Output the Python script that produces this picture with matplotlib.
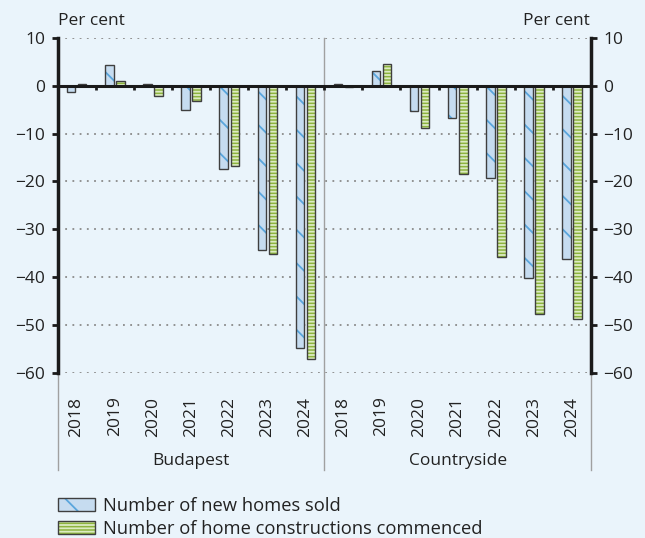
import matplotlib
matplotlib.use("Agg")
import matplotlib.pyplot as plt
from matplotlib.patches import Patch
from matplotlib.legend_handler import HandlerTuple
from matplotlib.transforms import blended_transform_factory
import matplotlib.lines as mlines

plt.rcParams['font.family'] = ['Open Sans', 'DejaVu Sans']
plt.rcParams['hatch.linewidth'] = 1.3

years = ['2018', '2019', '2020', '2021', '2022', '2023', '2024']
regions = ['Budapest', 'Countryside']
sold = [-1.4, 4.2, 0.3, -5.0, -17.5, -34.3, -54.7,
        0.4, 3.0, -5.3, -6.8, -19.2, -40.2, -36.1]
commenced = [0.4, 1.0, -2.1, -3.2, -16.8, -35.2, -57.1,
             -0.3, 4.6, -8.9, -18.4, -35.8, -47.6, -48.8]
series_labels = ['Number of new homes sold', 'Number of home constructions commenced']
yticks = [10, 0, -10, -20, -30, -40, -50, -60]

BG = '#EAF4FB'
BLUE_FILL = '#C6DCF0'
BLUE_HATCH = '#5AA6DC'
GREEN_FILL = '#8DB43E'
GREEN_HATCH = '#DCEBC2'
EDGE = '#3f3f3f'
FS = 12.5

W, H = 645, 538
fig = plt.figure(figsize=(W / 100, H / 100), dpi=100, facecolor=BG)
ax = fig.add_axes([57.5 / W, 1 - 373 / H, (591 - 57.5) / W, (373 - 37.7) / H])
ax.set_facecolor(BG)

n = len(sold)
x = list(range(n))
bw = 0.22
xs = [v - 0.14 for v in x]
xc = [v + 0.15 for v in x]

ax.bar(xs, sold, width=bw, color=BLUE_FILL, hatch='\\', edgecolor=BLUE_HATCH, linewidth=0, zorder=3)
ax.bar(xs, sold, width=bw, color='none', edgecolor=EDGE, linewidth=1.0, zorder=4)
ax.bar(xc, commenced, width=bw, color=GREEN_FILL, hatch='-----', edgecolor=GREEN_HATCH, linewidth=0, zorder=3)
ax.bar(xc, commenced, width=bw, color='none', edgecolor=EDGE, linewidth=1.0, zorder=4)

ax.set_xlim(-0.5, n - 0.5)
ax.set_ylim(-60, 10)

# grid
for yv in yticks:
    if yv != 0:
        ax.axhline(yv, color='#8a8a8a', lw=1.3, linestyle=(0, (1, 3)), zorder=1)
ax.axhline(0, color='#1a1a1a', lw=2.2, zorder=5)

# boundary ticks on zero line
for b in range(n - 1):
    ax.plot([b + 0.5, b + 0.5], [0, -0.9], color='#1a1a1a', lw=2, zorder=5, solid_capstyle='butt')

# separators
tr = blended_transform_factory(ax.transData, fig.transFigure)
for sx in [-0.5, (n - 1) / 2, n - 0.5]:
    ln = mlines.Line2D([sx, sx], [1 - 470 / H, 1 - 37.7 / H], transform=tr,
                       color='#a0a0a0', lw=1.0, zorder=2, clip_on=False)
    ax.add_artist(ln)

for s in ['top', 'bottom']:
    ax.spines[s].set_visible(False)
for s in ['left', 'right']:
    ax.spines[s].set_linewidth(2.5)
    ax.spines[s].set_color('#1a1a1a')
    ax.spines[s].set_zorder(6)

ax.set_yticks(yticks)
ax.set_yticklabels([str(v).replace('-', '\u2212') for v in yticks])
ax.tick_params(axis='y', left=True, right=True, labelleft=True, labelright=True,
               direction='out', length=4, width=2, color='#1a1a1a',
               labelsize=FS, labelcolor='#222222', pad=5)

ax.set_xticks(x)
ax.set_xticklabels(years * 2, rotation=90)
ax.tick_params(axis='x', length=0, pad=17, labelsize=FS, labelcolor='#222222')

for i, r in enumerate(regions):
    ax.text(i * 7 + 3, 1 - 461 / H, r, transform=tr, ha='center', va='center',
            fontsize=FS, color='#222222')

fig.text(57.5 / W, 1 - 21 / H, 'Per cent', ha='left', va='center', fontsize=FS, color='#222222')
fig.text(590 / W, 1 - 21 / H, 'Per cent', ha='right', va='center', fontsize=FS, color='#222222')

h1 = (Patch(facecolor=BLUE_FILL, hatch='\\', edgecolor=BLUE_HATCH, linewidth=0),
      Patch(facecolor='none', edgecolor=EDGE, linewidth=1.0))
h2 = (Patch(facecolor=GREEN_FILL, hatch='-----', edgecolor=GREEN_HATCH, linewidth=0),
      Patch(facecolor='none', edgecolor=EDGE, linewidth=1.0))
LFS = 13.2
fig.legend([h1, h2], series_labels, handler_map={tuple: HandlerTuple(ndivide=1, pad=0)},
           loc='upper left', bbox_to_anchor=(58 / W, 1 - 497 / H), frameon=False,
           fontsize=LFS, handlelength=37 / (LFS * 100 / 72), handleheight=0.68,
           handletextpad=0.45, labelspacing=0.28, borderpad=0, borderaxespad=0,
           labelcolor='#222222')

fig.savefig('out.png', dpi=100, facecolor=BG)
